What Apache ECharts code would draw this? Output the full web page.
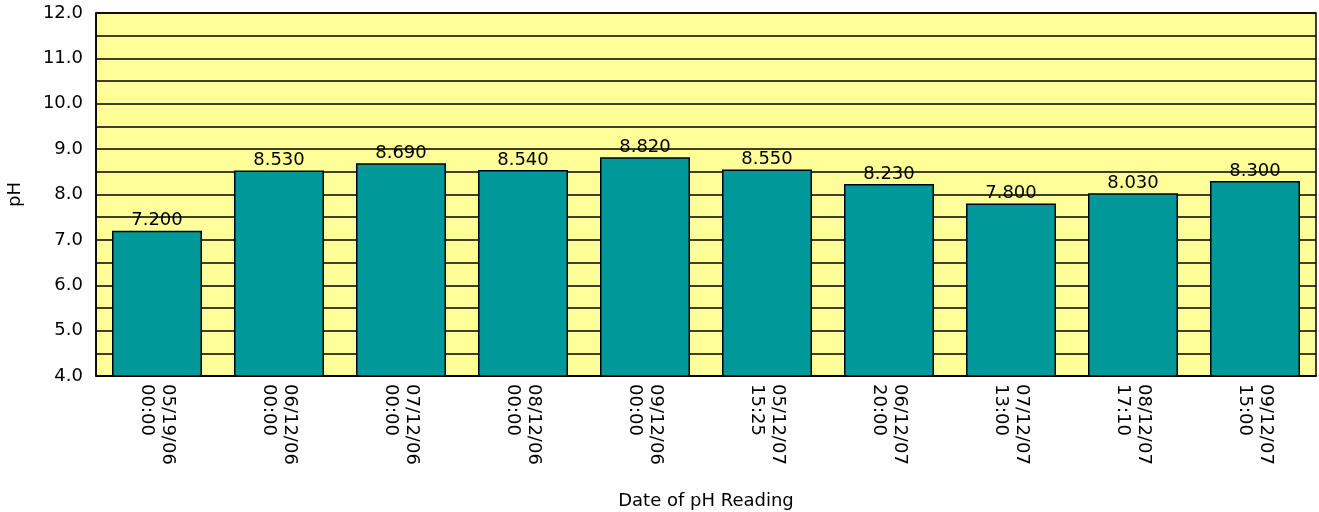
<!DOCTYPE html>
<html><head><meta charset="utf-8">
<script src="https://cdn.jsdelivr.net/npm/echarts@6/dist/echarts.min.js"></script>
<style>html,body{margin:0;padding:0;background:#fff}#c{width:1319px;height:512px}</style>
</head><body><div id="c"></div>
<script>
const categories = ["05/19/06\n00:00","06/12/06\n00:00","07/12/06\n00:00","08/12/06\n00:00","09/12/06\n00:00","05/12/07\n15:25","06/12/07\n20:00","07/12/07\n13:00","08/12/07\n17:10","09/12/07\n15:00"];
const phValues = [7.2, 8.53, 8.69, 8.54, 8.82, 8.55, 8.23, 7.8, 8.03, 8.3];
const yMin = 4, yMax = 12, yStep = 0.5;

const F = 'DejaVu Sans, Verdana, sans-serif';
const chart = echarts.init(document.getElementById('c'), null, {renderer:'canvas'});
chart.setOption({
  animation:false,
  textStyle:{fontFamily:F},
  grid:{left:96, right:3, top:13, bottom:136, outerBoundsMode:'none', containLabel:false,
        show:true, backgroundColor:'#FFFF99', borderColor:'#000', borderWidth:1.5},
  xAxis:{
    type:'category', data:categories,
    name:'Date of pH Reading', nameLocation:'middle', nameGap:116,
    nameTextStyle:{fontSize:18, color:'#000', fontFamily:F},
    axisLine:{lineStyle:{color:'#000', width:1.5}},
    axisTick:{show:false},
    axisLabel:{rotate:-90, fontSize:18, color:'#000', lineHeight:21, margin:8, interval:0, fontFamily:F}
  },
  yAxis:{
    type:'value', min:yMin, max:yMax, interval:yStep,
    name:'pH', nameLocation:'middle', nameGap:72, nameRotate:90,
    nameTextStyle:{fontSize:18, color:'#000', fontFamily:F},
    axisLine:{show:true, lineStyle:{color:'#000', width:1.5}},
    axisTick:{show:false},
    splitLine:{lineStyle:{color:'#000', width:1.6}},
    axisLabel:{fontSize:18, color:'#000', margin:13, fontFamily:F,
      formatter:v=> (Math.abs(v-Math.round(v))<1e-6 ? v.toFixed(1) : '')}
  },
  series:[{
    type:'bar', data:phValues, barWidth:90,
    itemStyle:{color:'#009999', borderColor:'#000', borderWidth:1.5},
    label:{show:true, position:'top', distance:1, fontSize:18, color:'#000', fontFamily:F,
      formatter:p=>p.value.toFixed(3)}
  }]
});
</script></body></html>
